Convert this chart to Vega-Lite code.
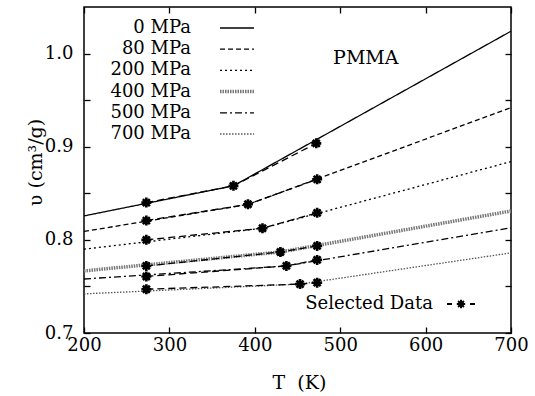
{
  "$schema": "https://vega.github.io/schema/vega-lite/v6.json",
  "width": 427,
  "height": 326,
  "autosize": {"type": "none"},
  "padding": {"left": 84, "top": 7, "right": 24, "bottom": 63},
  "background": "white",
  "config": {
    "view": {"stroke": "black", "strokeWidth": 1.5},
    "font": "DejaVu Serif",
    "axis": {
      "grid": false,
      "domain": false,
      "tickColor": "black",
      "tickWidth": 1.3,
      "tickSize": -6,
      "labelFont": "DejaVu Serif",
      "labelFontSize": 18,
      "labelColor": "black",
      "titleFont": "DejaVu Serif",
      "titleFontSize": 19,
      "titleFontWeight": "normal",
      "titleColor": "black",
      "labelFlush": false,
      "labelOverlap": false
    },
    "legend": {
      "labelFont": "DejaVu Serif",
      "labelFontSize": 18,
      "labelColor": "black",
      "labelLimit": 0,
      "padding": 0,
      "title": null
    }
  },
  "datasets": {
    "curves": [
      {"p": "0 MPa", "T": 200, "v": 0.8257},
      {"p": "0 MPa", "T": 375, "v": 0.858},
      {"p": "0 MPa", "T": 700, "v": 1.024},
      {"p": "80 MPa", "T": 200, "v": 0.809},
      {"p": "80 MPa", "T": 392, "v": 0.838},
      {"p": "80 MPa", "T": 700, "v": 0.942},
      {"p": "200 MPa", "T": 200, "v": 0.79},
      {"p": "200 MPa", "T": 409, "v": 0.8125},
      {"p": "200 MPa", "T": 700, "v": 0.884},
      {"p": "400 MPa", "T": 200, "v": 0.7667},
      {"p": "400 MPa", "T": 430, "v": 0.787},
      {"p": "400 MPa", "T": 700, "v": 0.831},
      {"p": "500 MPa", "T": 200, "v": 0.758},
      {"p": "500 MPa", "T": 437, "v": 0.772},
      {"p": "500 MPa", "T": 700, "v": 0.813},
      {"p": "700 MPa", "T": 200, "v": 0.742},
      {"p": "700 MPa", "T": 453, "v": 0.7525},
      {"p": "700 MPa", "T": 700, "v": 0.786}
    ],
    "sel": [
      {"src": "Selected Data", "p": "0 MPa", "T": 273, "v": 0.84},
      {"src": "Selected Data", "p": "0 MPa", "T": 375, "v": 0.858},
      {"src": "Selected Data", "p": "0 MPa", "T": 472, "v": 0.9036},
      {"src": "Selected Data", "p": "80 MPa", "T": 273, "v": 0.8207},
      {"src": "Selected Data", "p": "80 MPa", "T": 392, "v": 0.8382},
      {"src": "Selected Data", "p": "80 MPa", "T": 473, "v": 0.865},
      {"src": "Selected Data", "p": "200 MPa", "T": 273, "v": 0.8},
      {"src": "Selected Data", "p": "200 MPa", "T": 409, "v": 0.8125},
      {"src": "Selected Data", "p": "200 MPa", "T": 473, "v": 0.829},
      {"src": "Selected Data", "p": "400 MPa", "T": 273, "v": 0.772},
      {"src": "Selected Data", "p": "400 MPa", "T": 430, "v": 0.787},
      {"src": "Selected Data", "p": "400 MPa", "T": 473, "v": 0.7935},
      {"src": "Selected Data", "p": "500 MPa", "T": 273, "v": 0.7607},
      {"src": "Selected Data", "p": "500 MPa", "T": 437, "v": 0.772},
      {"src": "Selected Data", "p": "500 MPa", "T": 473, "v": 0.7785},
      {"src": "Selected Data", "p": "700 MPa", "T": 273, "v": 0.747},
      {"src": "Selected Data", "p": "700 MPa", "T": 453, "v": 0.7525},
      {"src": "Selected Data", "p": "700 MPa", "T": 473, "v": 0.754}
    ]
  },
  "layer": [
    {
      "data": {"name": "curves"},
      "mark": {"type": "line", "strokeCap": "butt"},
      "encoding": {
        "x": {
          "field": "T", "type": "quantitative",
          "scale": {"domain": [200, 700], "nice": false, "zero": false},
          "axis": {
            "orient": "bottom",
            "values": [200, 300, 400, 500, 600, 700],
            "labelPadding": 9,
            "title": "T\u00a0 (K)",
            "titleX": 215,
            "titleY": 55,
            "titleAlign": "center",
            "titleBaseline": "alphabetic"
          }
        },
        "y": {
          "field": "v", "type": "quantitative",
          "scale": {"domain": [0.7, 1.05], "nice": false, "zero": false},
          "axis": {
            "orient": "left",
            "values": [0.7, 0.75, 0.8, 0.85, 0.9, 0.95, 1.0],
            "labelExpr": "abs(datum.value * 10 - round(datum.value * 10)) < 0.01 ? format(datum.value, '.1f') : ''",
            "labelPadding": 17,
            "title": "υ (cm³/g)",
            "titleAngle": -90,
            "titleX": -43,
            "titleY": 155,
            "titleAlign": "center",
            "titleBaseline": "alphabetic"
          }
        },
        "color": {
          "field": "p", "type": "nominal",
          "scale": {
            "domain": ["0 MPa", "80 MPa", "200 MPa", "400 MPa", "500 MPa", "700 MPa"],
            "range": ["#000000", "#000000", "#000000", "#777777", "#000000", "#555555"]
          },
          "legend": {
            "orient": "none",
            "legendX": 144,
            "legendY": 12,
            "symbolType": "M-4,0H4",
            "symbolSize": 72,
            "symbolStrokeWidth": {"expr": "datum && datum.value === '400 MPa' ? 3.5 : 1.3"},
            "symbolFillColor": "transparent",
            "labelAlign": "right",
            "labelOffset": -55,
            "rowPadding": 3.2
          }
        },
        "strokeDash": {
          "field": "p", "type": "nominal",
          "scale": {
            "domain": ["0 MPa", "80 MPa", "200 MPa", "400 MPa", "500 MPa", "700 MPa"],
            "range": [[1, 0], [5, 3], [2, 3], [1.5, 1], [7, 3, 2, 3], [1.5, 1.5]]
          },
          "legend": {
            "orient": "none",
            "legendX": 144,
            "legendY": 12,
            "symbolType": "M-4,0H4",
            "symbolSize": 72,
            "symbolStrokeWidth": {"expr": "datum && datum.value === '400 MPa' ? 3.5 : 1.3"},
            "symbolFillColor": "transparent",
            "labelAlign": "right",
            "labelOffset": -55,
            "rowPadding": 3.2
          }
        },
        "strokeWidth": {
          "condition": {"test": "datum.p === '400 MPa'", "value": 3.5},
          "value": 1.3
        }
      }
    },
    {
      "data": {"name": "sel"},
      "mark": {"type": "line", "color": "black", "strokeWidth": 1.3, "strokeDash": [7, 4]},
      "encoding": {
        "x": {"field": "T", "type": "quantitative", "axis": null},
        "y": {"field": "v", "type": "quantitative", "axis": null},
        "detail": {"field": "p"}
      }
    },
    {
      "data": {"name": "sel"},
      "mark": {
        "type": "point",
        "shape": "M-1,0H1M0,-1V1M-0.7,-0.7L0.7,0.7M-0.7,0.7L0.7,-0.7",
        "size": 100,
        "filled": true,
        "opacity": 1,
        "stroke": "black",
        "strokeWidth": 2.6
      },
      "encoding": {
        "x": {
          "field": "T", "type": "quantitative",
          "axis": {"orient": "top", "values": [200, 300, 400, 500, 600, 700], "labels": false, "title": null}
        },
        "y": {
          "field": "v", "type": "quantitative",
          "axis": {"orient": "right", "values": [0.7, 0.75, 0.8, 0.85, 0.9, 0.95, 1.0], "labels": false, "title": null}
        },
        "fill": {
          "field": "src", "type": "nominal",
          "scale": {"range": ["black"]},
          "legend": {
            "orient": "none",
            "legendX": 362,
            "legendY": 282,
            "symbolType": "M-1,0H-0.64M0.64,0H1M-0.3,0H0.3M0,-0.3V0.3M-0.21,-0.21L0.21,0.21M-0.21,0.21L0.21,-0.21",
            "symbolSize": 784,
            "symbolStrokeColor": "black",
            "symbolStrokeWidth": 2,
            "symbolOpacity": 1,
            "labelAlign": "right",
            "labelOffset": -43
          }
        }
      }
    },
    {
      "data": {"values": [{"label": "PMMA"}]},
      "mark": {"type": "text", "font": "DejaVu Serif", "fontSize": 19, "align": "center", "baseline": "middle", "color": "black"},
      "encoding": {
        "x": {"datum": 530, "type": "quantitative", "axis": null},
        "y": {"datum": 0.995, "type": "quantitative", "axis": null},
        "text": {"field": "label", "type": "nominal"}
      }
    }
  ],
  "resolve": {"axis": {"x": "independent", "y": "independent"}}
}
